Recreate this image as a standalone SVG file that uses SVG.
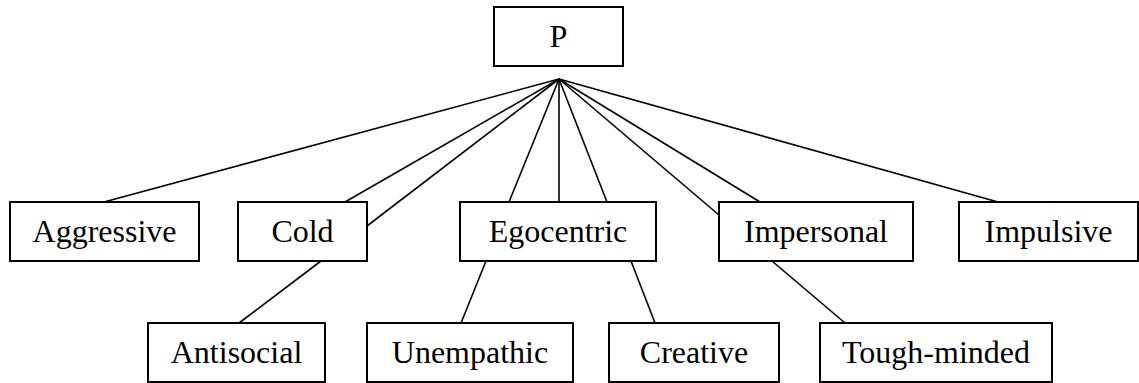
<svg xmlns="http://www.w3.org/2000/svg" width="1139" height="383" viewBox="0 0 1139 383">
<style>
rect{fill:#fff;stroke:#000;stroke-width:2}
text{font-family:"Liberation Serif","Times New Roman",serif;font-size:32px;fill:#000;text-anchor:middle}
#connectors line{stroke:#000;stroke-width:1.6}
</style>
<rect x="0" y="0" width="1139" height="383" style="stroke:none"/>
<g id="connectors">
<line x1="559" y1="79" x2="104" y2="202"/>
<line x1="559" y1="79" x2="345" y2="202"/>
<line x1="559" y1="79" x2="367" y2="226"/>
<line x1="559" y1="79" x2="509" y2="202"/>
<line x1="559" y1="79" x2="559" y2="202"/>
<line x1="559" y1="79" x2="607" y2="202"/>
<line x1="559" y1="79" x2="719" y2="215"/>
<line x1="559" y1="79" x2="760" y2="202"/>
<line x1="559" y1="79" x2="998" y2="202"/>
<line x1="321" y1="261" x2="239" y2="323"/>
<line x1="486" y1="261" x2="461" y2="323"/>
<line x1="631" y1="261" x2="655" y2="323"/>
<line x1="772" y1="261" x2="845" y2="323"/>
</g>
<g id="node-p"><rect x="494" y="7" width="129" height="59"/><text x="558.5" y="47">P</text></g>
<g id="node-aggressive"><rect x="10" y="202" width="189" height="59"/><text x="104.5" y="242">Aggressive</text></g>
<g id="node-cold"><rect x="238" y="202" width="129" height="59"/><text x="302.5" y="242">Cold</text></g>
<g id="node-egocentric"><rect x="460" y="202" width="196" height="59"/><text x="558" y="242">Egocentric</text></g>
<g id="node-impersonal"><rect x="719" y="202" width="194" height="59"/><text x="816" y="242">Impersonal</text></g>
<g id="node-impulsive"><rect x="959" y="202" width="179" height="59"/><text x="1048.5" y="242">Impulsive</text></g>
<g id="node-antisocial"><rect x="148" y="323" width="177" height="59"/><text x="236.5" y="363">Antisocial</text></g>
<g id="node-unempathic"><rect x="367" y="323" width="206" height="59"/><text x="470" y="363">Unempathic</text></g>
<g id="node-creative"><rect x="609" y="323" width="170" height="59"/><text x="694" y="363">Creative</text></g>
<g id="node-toughminded"><rect x="820" y="323" width="232" height="59"/><text x="936" y="363">Tough-minded</text></g>
</svg>
